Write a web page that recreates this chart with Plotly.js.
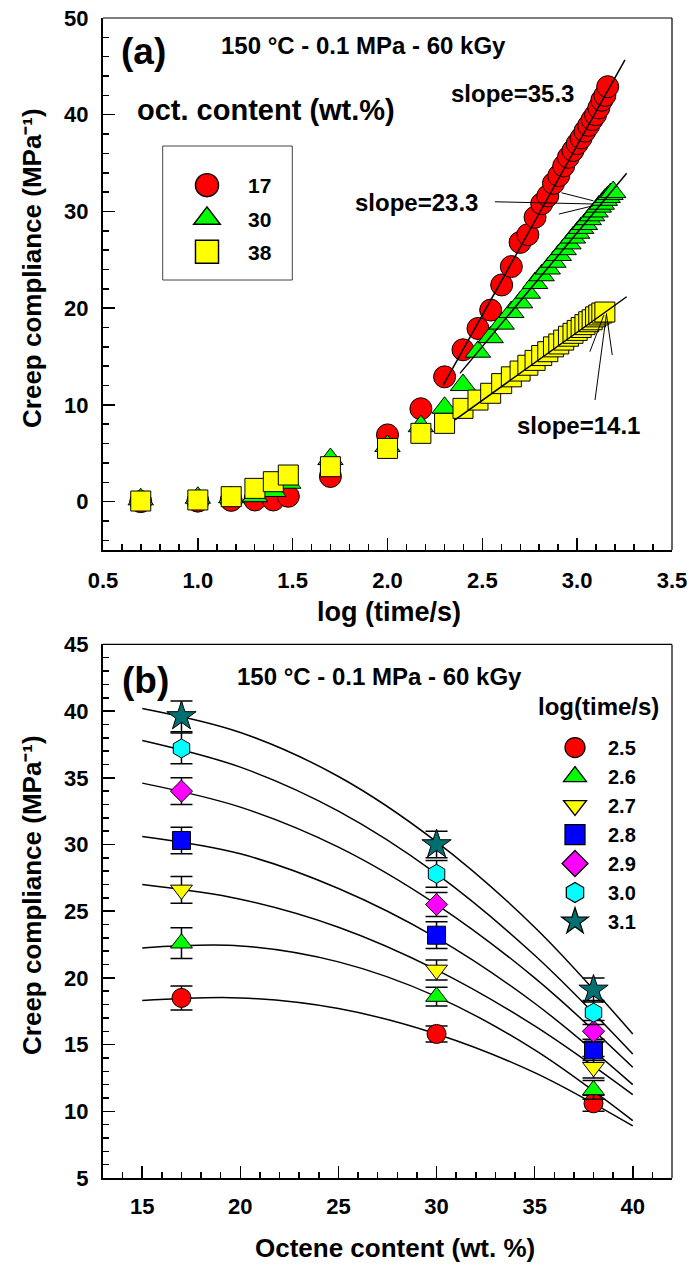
<!DOCTYPE html>
<html><head><meta charset="utf-8">
<script src="https://cdn.plot.ly/plotly-3.0.1.min.js"></script>
<style>html,body{margin:0;padding:0;background:#fff}#chart{width:690px;height:1264px}</style>
</head><body><div id="chart"></div>
<script>
// ---------- Panel (a): creep compliance vs log(time/s) ----------
const logTime = [0.699,1.000,1.176,1.301,1.398,1.477,1.699,2.000,2.176,2.301,
                 2.398,2.477,2.544,2.602,2.653,2.699,2.740,2.778,2.813,2.845,
                 2.875,2.903,2.929,2.954,2.978,3.000,3.021,3.041,3.061,3.079,
                 3.097,3.114,3.130,3.146,3.161,3.176,3.190];
const comp17 = [0.00,0.05,0.13,0.17,0.17,0.55,2.6,6.9,9.6,12.9,
                15.7,17.9,19.8,22.4,24.3,26.8,27.6,29.4,30.8,31.6,
                32.9,33.7,34.7,35.6,36.3,37.0,37.6,38.3,38.9,39.5,
                40.0,40.7,41.5,42.0,42.9];
const comp30 = [0.24,0.40,0.45,0.56,1.1,1.95,4.4,5.75,7.8,9.7,
                12.05,15.5,17.0,18.4,19.6,20.6,21.6,22.6,23.4,24.1,
                24.8,25.5,26.1,26.7,27.3,27.8,28.3,28.7,29.2,29.6,
                30.0,30.5,30.8,31.2,31.5,31.8,32.0];
const comp38 = [0.06,0.17,0.51,1.37,2.06,2.75,3.61,5.5,7.06,8.09,
                9.64,10.5,11.2,12.2,12.9,13.5,14.1,14.6,15.1,15.5,
                16.0,16.3,16.7,17.1,17.4,17.7,18.0,18.3,18.6,18.8,
                19.1,19.3,19.5,19.6];
const octLabels = ['17','30','38'];
// linear fits
const fitX17 = [2.294,3.252], fitY17 = [12.05,45.66];
const fitX30 = [2.382,3.261], fitY30 = [13.26,33.94];
const fitX38 = [2.356,3.261], fitY38 = [8.44,21.18];
const slopeLabels = ['slope=35.3','slope=23.3','slope=14.1'];
const slopeLabelX = [2.659,2.155,3.009], slopeLabelY = [42.2,30.9,7.9];
// pointer lines [x0,y0,x1,y1]
const pointer23 = [[2.566,31.0,3.085,30.77],[2.918,31.93,3.085,31.1],[2.904,29.73,3.085,30.59]];
const pointer14 = [[3.094,10.5,3.155,19.47],[3.067,15.5,3.141,19.3],[3.185,15.16,3.155,19.3]];

// ---------- Panel (b): creep compliance vs octene content ----------
const octene = [17,30,38];
const timeLabels = ['2.5','2.6','2.7','2.8','2.9','3.0','3.1'];
const c25 = [18.5,15.8,10.6], e25 = [0.9,0.6,0.6];
const c26 = [22.6,18.6,11.6], e26 = [1.15,0.7,0.7];
const c27 = [26.6,20.6,13.3], e27 = [1.0,0.75,0.8];
const c28 = [30.3,23.2,14.6], e28 = [1.0,1.0,0.8];
const c29 = [34.0,25.5,16.0], e29 = [1.0,0.9,0.8];
const c30 = [37.2,27.8,17.4], e30 = [1.15,1.0,0.9];
const c31 = [39.6,30.0,19.1], e31 = [1.15,1.0,0.9];
const curveX = [15,20,25,30,35,40];
const f25 = [18.3,18.5,17.7,15.8,12.9,8.9];
const f26 = [22.25,22.4,21.2,18.6,14.6,9.3];
const f27 = [27.0,25.9,23.8,20.6,16.4,11.25];
const f28 = [30.6,29.3,26.7,23.0,18.1,12.0];
const f29 = [34.6,32.8,29.8,25.5,20.0,13.3];
const f30 = [37.8,35.8,32.5,27.8,21.7,14.3];
const f31 = [40.2,38.4,35.1,30.2,23.8,15.8];

const FF = 'Liberation Sans, Arial, sans-serif';
const bold = (s,c) => ({family:FF, size:s, weight:'bold', color:c||'#000'});
const mline = {color:'#000', width:1};
const traces = [];

// panel a markers
[[comp17,'circle','#ff0000',22],[comp30,'triangle-up','#00ff00',22],[comp38,'square','#ffff00',20]]
.forEach((d,i)=>{
  traces.push({type:'scatter', mode:'markers', x:logTime.slice(0,d[0].length), y:d[0],
    xaxis:'x', yaxis:'y', name:octLabels[i], legend:'legend', legendgroup:'g'+i,
    marker:{symbol:d[1], color:d[2], size:d[3], line:mline}, cliponaxis:false});
});
[[fitX17,fitY17],[fitX30,fitY30],[fitX38,fitY38]].forEach(d=>{
  traces.push({type:'scatter', mode:'lines', x:d[0], y:d[1], xaxis:'x', yaxis:'y',
    showlegend:false, line:{color:'#000', width:1.5}, hoverinfo:'skip'});
});

// panel b curves (under markers)
[f25,f26,f27,f28,f29,f30,f31].forEach(f=>{
  traces.push({type:'scatter', mode:'lines', x:curveX, y:f, xaxis:'x2', yaxis:'y2',
    showlegend:false, line:{color:'#000', width:1.5, shape:'spline', smoothing:1}, hoverinfo:'skip'});
});
const bSeries = [[c25,e25,'circle','#ff0000',19],[c26,e26,'triangle-up','#00ff00',19],
  [c27,e27,'triangle-down','#ffff00',19],[c28,e28,'square','#0000ff',18],
  [c29,e29,'diamond','#ff00ff',17],[c30,e30,'hexagon','#00ffff',19],[c31,e31,'star','#007070',22]];
bSeries.forEach((d,i)=>{
  traces.push({type:'scatter', mode:'markers', x:octene, y:d[0], xaxis:'x2', yaxis:'y2',
    name:timeLabels[i], legend:'legend2',
    error_y:{type:'data', array:d[1], visible:true, color:'#000', thickness:1.5, width:11},
    marker:{symbol:d[2], color:d[3], size:d[4], line:mline}});
});

function axisX(range, dtick, tick0, mdtick, domain, anchor){
  return {domain:domain, anchor:anchor, range:range, dtick:dtick, tick0:tick0, ticks:'inside',
    ticklen:12, tickwidth:1.5, tickcolor:'#000',
    minor:{dtick:mdtick, ticks:'inside', ticklen:6, tickwidth:1.5, tickcolor:'#000', showgrid:false},
    showline:true, linewidth:2, linecolor:'#000', showgrid:false, zeroline:false, mirror:false,
    tickfont:bold(22), ticklabelstandoff:10, fixedrange:true};
}
const xa = axisX([0.5,3.5],0.5,0.5,0.1,[0,1],'y'); xa.tickformat='.1f';
const ya = axisX([-5,50],10,0,2,[0.5414,1],'x'); ya.ticklabelstandoff=8;
const xb = axisX([13,42],5,15,1,[0,1],'y2'); xb.ticklabelstandoff=8;
const yb = axisX([5,45],5,5,1,[0,0.46],'x2'); yb.ticklabelstandoff=8;

const shapes = [];
// top/right frame lines
[['x','y'],['x2','y2']].forEach(r=>{
  shapes.push({type:'line', xref:r[0]+' domain', yref:r[1]+' domain', x0:0, x1:1, y0:1, y1:1, line:{color:'#000', width:1.2}});
  shapes.push({type:'line', xref:r[0]+' domain', yref:r[1]+' domain', x0:1, x1:1, y0:0, y1:1, line:{color:'#000', width:1.2}});
});
pointer23.concat(pointer14).forEach(p=>{
  shapes.push({type:'line', xref:'x', yref:'y', x0:p[0], y0:p[1], x1:p[2], y1:p[3], line:{color:'#000', width:1}});
});
// legend frame panel a
shapes.push({type:'rect', xref:'paper', yref:'paper', x0:(162.7-103)/569, x1:(292.3-103)/569,
  y0:(1178-280)/1160, y1:(1178-146)/1160, line:{color:'#444', width:1}});

const annotations = [];
const addA = (text,xref,yref,x,y,size,extra) => annotations.push(Object.assign({text:text, xref:xref, yref:yref, x:x, y:y,
  showarrow:false, xanchor:'center', yanchor:'middle', font:bold(size)}, extra||{}));
addA('(a)','x domain','y domain',0.072,0.9367,37);
addA('150 °C - 0.1 MPa - 60 kGy','x domain','y domain',0.458,0.948,24);
addA('oct. content (wt.%)','x domain','y domain',0.2865,0.8271,29);
slopeLabels.forEach((t,i)=>addA(t,'x','y',slopeLabelX[i],slopeLabelY[i],24));
addA('(b)','x2 domain','y2 domain',0.074,0.933,37);
addA('150 °C - 0.1 MPa - 60 kGy','x2 domain','y2 domain',0.486,0.939,24);
addA('log(time/s)','x2 domain','y2 domain',0.871,0.8845,24);
// axis titles
addA('log (time/s)','paper','paper',0.5026,0.4882,27);
addA('Octene content (wt. %)','paper','paper',0.514,-0.0603,26);
addA('Creep compliance (MPa⁻¹)','paper','paper',-0.1248,0.7845,26,{textangle:-90});
addA('Creep compliance (MPa⁻¹)','paper','paper',-0.1248,0.244,26,{textangle:-90});

const layout = {
  width:690, height:1264, margin:{l:103,r:18,t:18,b:86},
  paper_bgcolor:'#fff', plot_bgcolor:'#fff', font:bold(22),
  xaxis:xa, yaxis:ya, xaxis2:xb, yaxis2:yb,
  showlegend:true,
  legend:{x:(166-103)/569, y:(1178-165)/1160, xanchor:'left', yanchor:'top', bgcolor:'rgba(0,0,0,0)',
    borderwidth:0, font:bold(21), itemwidth:72, tracegroupgap:3, traceorder:'grouped', itemclick:false},
  legend2:{x:(542-103)/569, y:(1178-728)/1160, xanchor:'left', yanchor:'top', bgcolor:'rgba(0,0,0,0)',
    borderwidth:0, font:bold(20), itemwidth:56, traceorder:'normal', itemclick:false},
  shapes:shapes, annotations:annotations
};

Plotly.newPlot('chart', traces, layout, {displayModeBar:false, staticPlot:true}).then(gd=>{
  const scaleLegend = (cls,k)=>{
    document.querySelectorAll('.'+cls+' .legendpoints path').forEach(p=>{
      const t = p.getAttribute('transform')||'';
      p.setAttribute('transform', t+' scale('+k+')');
    });
  };
  scaleLegend('legend',1.44);
  scaleLegend('legend2',1.25);
  // drop empty placeholder text nodes (unused axis/legend titles etc.)
  document.querySelectorAll('#chart svg text').forEach(t=>{
    const s = (t.textContent||'').replace(/[\s\u200b]/g,'');
    if(!s) t.remove();
  });
});
</script>
</body></html>
